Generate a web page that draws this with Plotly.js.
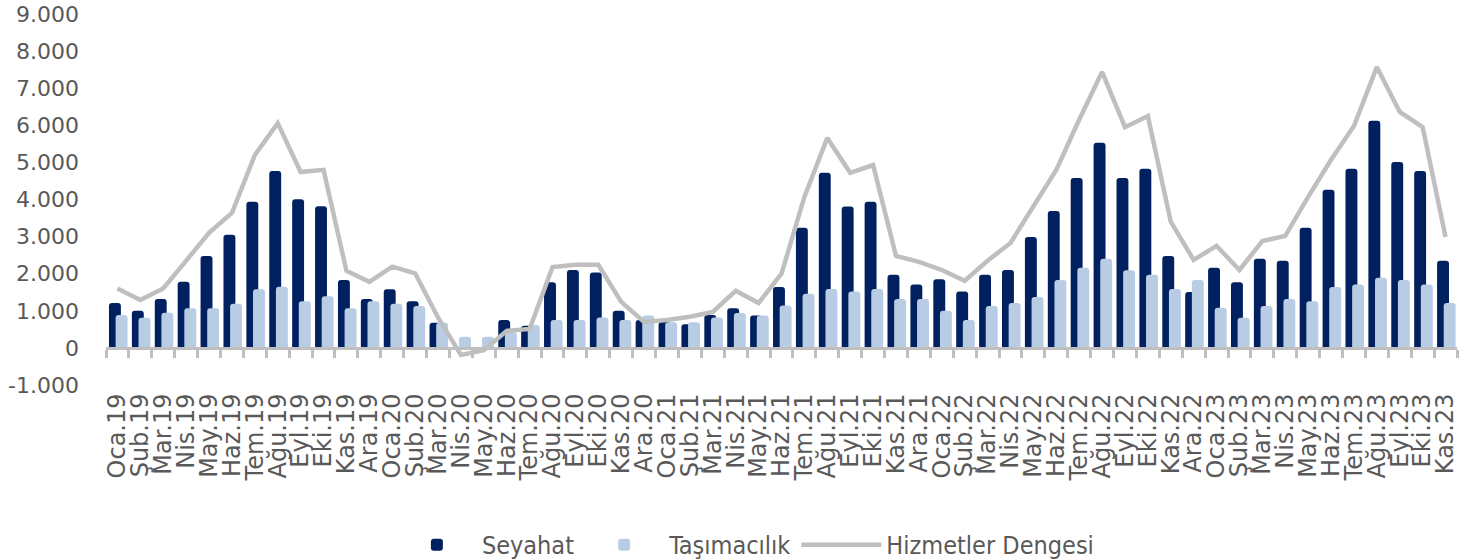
<!DOCTYPE html>
<html>
<head>
<meta charset="utf-8">
<script src="https://cdn.plot.ly/plotly-3.0.1.min.js"></script>
<style>html,body{margin:0;padding:0;background:#fff;}#chart{width:1476px;height:560px;}</style>
</head>
<body>
<div id="chart"></div>
<script>
const months = ["Oca.19","Şub.19","Mar.19","Nis.19","May.19","Haz.19","Tem.19","Ağu.19","Eyl.19","Eki.19","Kas.19","Ara.19",
"Oca.20","Şub.20","Mar.20","Nis.20","May.20","Haz.20","Tem.20","Ağu.20","Eyl.20","Eki.20","Kas.20","Ara.20",
"Oca.21","Şub.21","Mar.21","Nis.21","May.21","Haz.21","Tem.21","Ağu.21","Eyl.21","Eki.21","Kas.21","Ara.21",
"Oca.22","Şub.22","Mar.22","Nis.22","May.22","Haz.22","Tem.22","Ağu.22","Eyl.22","Eki.22","Kas.22","Ara.22",
"Oca.23","Şub.23","Mar.23","Nis.23","May.23","Haz.23","Tem.23","Ağu.23","Eyl.23","Eki.23","Kas.23"];

const seyahat = [1210,1000,1320,1780,2480,3050,3940,4770,4010,3820,1830,1320,
1580,1260,680,0,0,750,600,1770,2100,2030,1000,750,
700,640,890,1070,870,1640,3240,4720,3810,3940,1970,1710,
1850,1520,1970,2100,2990,3690,4580,5530,4580,4830,2480,1510,
2160,1770,2400,2350,3240,4260,4830,6120,5010,4770,2350];

const tasimacilik = [890,810,950,1070,1070,1190,1580,1650,1260,1390,1070,1260,
1190,1130,680,300,300,430,620,750,750,820,750,870,
690,690,820,940,870,1140,1460,1590,1520,1590,1320,1320,
1000,750,1130,1210,1370,1830,2160,2400,2090,1970,1590,1830,
1080,810,1130,1320,1260,1640,1710,1890,1830,1710,1210];

const hizmetler = [1600,1290,1600,2370,3100,3640,5200,6060,4740,4800,2080,1780,
2190,2010,820,-190,-60,460,510,2180,2240,2240,1240,700,
750,840,970,1540,1210,2000,4070,5660,4720,4930,2480,2320,
2100,1810,2350,2830,3830,4800,6150,7440,5950,6250,3400,2370,
2750,2100,2880,3020,4070,5070,5980,7570,6360,5950,2990];

const yTicks = [-1000,0,1000,2000,3000,4000,5000,6000,7000,8000,9000];
const yTickText = ["-1.000","0","1.000","2.000","3.000","4.000","5.000","6.000","7.000","8.000","9.000"];

const traces = [
  {type:'bar', name:'Seyahat', x:months, y:seyahat,
   marker:{color:'#002060', cornerradius:3}, width:0.52, offset:-0.37},
  {type:'bar', name:'Taşımacılık', x:months, y:tasimacilik,
   marker:{color:'#B8CCE4', cornerradius:3}, width:0.52, offset:-0.08},
  {type:'scatter', mode:'lines', name:'Hizmetler Dengesi', x:months, y:hizmetler,
   line:{color:'#BFBFBF', width:4.5}}
];

const layout = {
  width:1476, height:560,
  margin:{l:106, r:19, t:14, b:175},
  paper_bgcolor:'#fff', plot_bgcolor:'#fff',
  barmode:'overlay',
  showlegend:true,
  xaxis:{type:'category', anchor:'free', position:0.1,
    tickmode:'array', tickvals:months, ticktext:months,
    tickangle:-90, tickson:'boundaries', ticks:'outside', ticklen:8, tickwidth:3, tickcolor:'#BFBFBF',
    showline:true, linecolor:'#BFBFBF', linewidth:3,
    showgrid:false, zeroline:false,
    ticklabelstandoff:34,
    tickfont:{family:'DejaVu Sans', size:24, color:'#595959'}},
  yaxis:{range:[-1000,9000], tickmode:'array', tickvals:yTicks, ticktext:yTickText,
    showgrid:false, zeroline:false, showline:false, ticks:'',
    tickfont:{family:'DejaVu Sans', size:22, color:'#595959'}, ticklabelstandoff:26},
  legend:{orientation:'h', xref:'container', yref:'container', x:0.505, xanchor:'center', y:0.027, yanchor:'middle',
    font:{family:'DejaVu Sans Condensed', size:25, color:'#595959'},
    itemwidth:80, tracegroupgap:0}
};

Plotly.newPlot('chart', traces, layout, {displayModeBar:false, staticPlot:true});
</script>
</body>
</html>
